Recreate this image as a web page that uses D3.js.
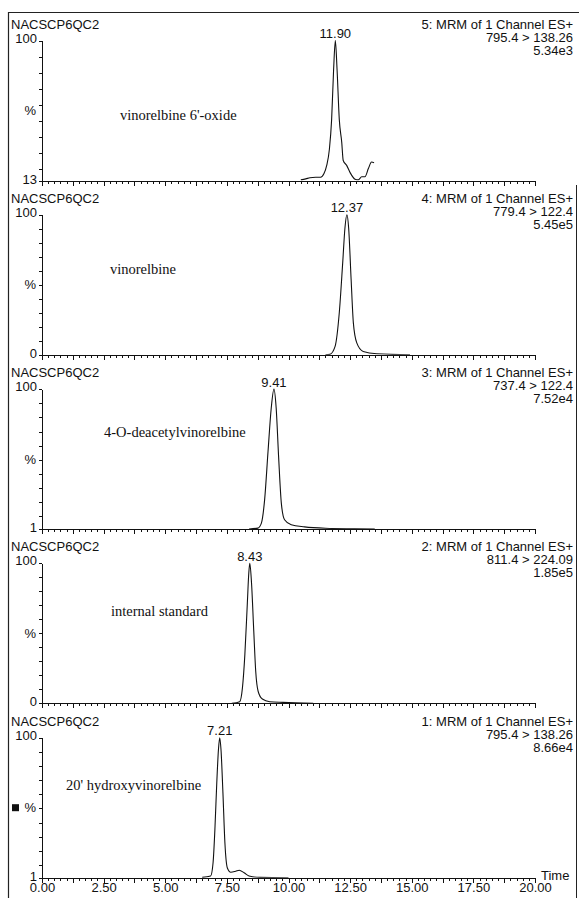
<!DOCTYPE html>
<meta charset="utf-8">

<!-- Load d3.js -->
<script src="https://d3js.org/d3.v7.min.js"></script>

<body style="margin:0; background:#fff;">
<div id="chromatogram"></div>
</body>

<style>
text {
  font-family: "Liberation Sans", Arial, sans-serif;
  font-size: 13px;
  fill: #111;
}
.compound {
  font-family: "Liberation Serif", "Times New Roman", serif;
  font-size: 14.5px;
}
.axis line, .axis path {
  stroke: #111;
  stroke-width: 1;
  shape-rendering: crispEdges;
}
</style>

<script>

// one entry per panel, top to bottom (channels 5 .. 1)
var sampleName = "NACSCP6QC2"
var channelNames = ["5: MRM of 1 Channel ES+", "4: MRM of 1 Channel ES+", "3: MRM of 1 Channel ES+",
                    "2: MRM of 1 Channel ES+", "1: MRM of 1 Channel ES+"]
var transitions = ["795.4 > 138.26", "779.4 > 122.4", "737.4 > 122.4", "811.4 > 224.09", "795.4 > 138.26"]
var intensities = ["5.34e3", "5.45e5", "7.52e4", "1.85e5", "8.66e4"]
var compounds = ["vinorelbine 6'-oxide", "vinorelbine", "4-O-deacetylvinorelbine", "internal standard", "20' hydroxyvinorelbine"]
var peakTimes = [11.90, 12.37, 9.41, 8.43, 7.21]
var yMins = [13, 0, 1, 0, 1]
var xTickValues = [0, 2.5, 5, 7.5, 10, 12.5, 15, 17.5, 20]

// traces: [time (min), relative intensity (%)]
var oxideTrace = [[10.50, 13.4], [10.70, 14.0], [10.87, 14.7], [11.10, 15.0], [11.30, 15.0], [11.44, 17.3],
  [11.55, 22.4], [11.66, 32.6], [11.75, 51], [11.83, 82], [11.90, 100], [11.97, 82], [12.06, 51],
  [12.16, 36.7], [12.22, 25.4], [12.36, 22.4], [12.50, 17.9], [12.70, 13.8], [12.83, 13.4],
  [12.97, 15.3], [13.10, 15.3], [13.24, 20.4], [13.37, 24.5], [13.47, 24.0]]
var vinorelbineTrace = [[11.50, 0], [11.68, 0.3], [11.89, 6], [12.06, 30], [12.20, 66], [12.29, 90.6],
  [12.37, 100], [12.44, 90.6], [12.54, 54], [12.63, 23], [12.77, 8.5], [13.03, 2.4], [13.58, 0.7], [14.93, 0]]
var deacetylTrace = [[8.40, 1.1], [8.76, 1.7], [8.90, 5.2], [9.03, 21.5], [9.17, 56], [9.30, 86.6],
  [9.41, 100], [9.50, 86.6], [9.60, 51.7], [9.71, 19.2], [9.84, 7.6], [10.11, 4.1], [10.65, 2.6],
  [11.50, 1.6], [12.67, 1.2], [13.50, 1.0]]
var standardTrace = [[7.70, 0], [8.02, 1.2], [8.13, 10.9], [8.23, 35], [8.33, 71.5], [8.39, 93.3],
  [8.43, 100], [8.50, 86], [8.59, 52], [8.67, 23], [8.77, 8.5], [8.94, 3.1], [9.24, 1.2], [9.78, 0.7], [11.00, 0]]
var hydroxyTrace = [[6.50, 1.2], [6.84, 2.2], [6.94, 11.6], [7.02, 37.5], [7.09, 68], [7.16, 92],
  [7.21, 100], [7.26, 92], [7.34, 61], [7.42, 25.7], [7.52, 7.9], [7.66, 4.9], [7.86, 5.6], [8.00, 6.3],
  [8.20, 4.5], [8.40, 2.2], [8.85, 1.2], [10.00, 1.0]]
var traces = [oxideTrace, vinorelbineTrace, deacetylTrace, standardTrace, hydroxyTrace]

// where the compound names sit: x in px, y offset below the 100% line
var compoundPos = [[120, 75], [110, 55], [104, 43], [111, 48], [66, 48]]

var width = 579, height = 898
var firstTop = 40.5, panelStep = 174.3, plotHeight = 140

var svg = d3.select("#chromatogram")
  .append("svg")
    .attr("width", width)
    .attr("height", height)

// frame of the scanned page
svg.append("path")
  .attr("d", "M8.5," + height + "V12.5H" + width)
  .attr("fill", "none").attr("stroke", "#222").attr("stroke-width", 1.2)
svg.append("line")
  .attr("x1", 576.5).attr("x2", 576.5).attr("y1", 185).attr("y2", height)
  .attr("stroke", "#222").attr("stroke-width", 1)

var x = d3.scaleLinear()
  .domain([0, 20])
  .range([42, 535])

for (var i = 0; i < traces.length; i++) {
  var plotTop = firstTop + i * panelStep
  var plotBottom = plotTop + plotHeight
  var last = (i == traces.length - 1)

  var y = d3.scaleLinear()
    .domain([yMins[i], 100])
    .range([plotBottom, plotTop])

  var g = svg.append("g")

  // header texts
  g.append("text")
    .attr("x", 11).attr("y", plotTop - 12)
    .text(sampleName)
  var header = [channelNames[i], transitions[i], intensities[i]]
  header.forEach(function(t, k) {
    g.append("text")
      .attr("x", 573).attr("y", plotTop - 12 + k * 13)
      .attr("text-anchor", "end")
      .text(t)
  })

  // x axis: minor ticks every 0.25 min, major every 1.25 min
  g.append("g")
    .attr("class", "axis")
    .attr("transform", "translate(0," + plotBottom + ")")
    .call(d3.axisBottom(x).tickValues(d3.range(0, 20.001, 0.25)).tickSize(3).tickSizeOuter(0).tickFormat(""))
  var major = g.append("g")
    .attr("class", "axis")
    .attr("transform", "translate(0," + plotBottom + ")")
    .call(d3.axisBottom(x).tickValues(d3.range(0, 20.001, 1.25)).tickSize(5).tickFormat(function(d) {
      return (last && xTickValues.indexOf(d) >= 0) ? d3.format(".2f")(d) : ""
    }))
  major.select(".domain").remove()
  major.selectAll("text")
    .attr("y", 5.5)
    .style("font-size", "13px")
    .style("font-family", "'Liberation Sans', Arial, sans-serif")
    .attr("fill", "#111")

  if (last) {
    g.append("text")
      .attr("x", 541).attr("y", plotBottom + 2)
      .text("Time")
  }

  // y axis: ticks every 10 %
  var yTicks = d3.range(10, 100.001, 10).filter(function(d) { return d >= yMins[i] })
  yTicks.push(yMins[i])
  g.append("g")
    .attr("class", "axis")
    .attr("transform", "translate(42,0)")
    .call(d3.axisLeft(y).tickValues(yTicks).tickSize(3.5).tickSizeOuter(0).tickFormat(""))

  g.append("text")
    .attr("x", 37).attr("y", y(100) + 2)
    .attr("text-anchor", "end")
    .text("100")
  g.append("text")
    .attr("x", 37).attr("y", y(yMins[i]) + 3)
    .attr("text-anchor", "end")
    .text(yMins[i])
  var mid = (plotTop + plotBottom) / 2
  g.append("text")
    .attr("x", 36).attr("y", mid + 4.5)
    .attr("text-anchor", "end")
    .text("%")
  if (last) {
    g.append("rect")
      .attr("x", 12).attr("y", mid - 3.5)
      .attr("width", 7).attr("height", 7)
      .attr("fill", "#111")
  }

  // trace, clipped to the plot
  svg.append("clipPath")
    .attr("id", "clip" + i)
    .append("rect")
      .attr("x", 42).attr("y", plotTop - 2)
      .attr("width", 493).attr("height", plotHeight + 2)
  g.append("path")
    .datum(traces[i])
    .attr("clip-path", "url(#clip" + i + ")")
    .attr("fill", "none")
    .attr("stroke", "#111")
    .attr("stroke-width", 1.1)
    .attr("d", d3.line()
        .curve(d3.curveMonotoneX)
        .x(function(d) { return x(d[0]) })
        .y(function(d) { return y(d[1]) })
    )

  // retention time above the peak
  g.append("text")
    .attr("x", x(peakTimes[i])).attr("y", y(100) - 2.5)
    .attr("text-anchor", "middle")
    .text(d3.format(".2f")(peakTimes[i]))

  // compound name
  g.append("text")
    .attr("class", "compound")
    .attr("x", compoundPos[i][0]).attr("y", plotTop + compoundPos[i][1] + 4.5)
    .text(compounds[i])
}

</script>
